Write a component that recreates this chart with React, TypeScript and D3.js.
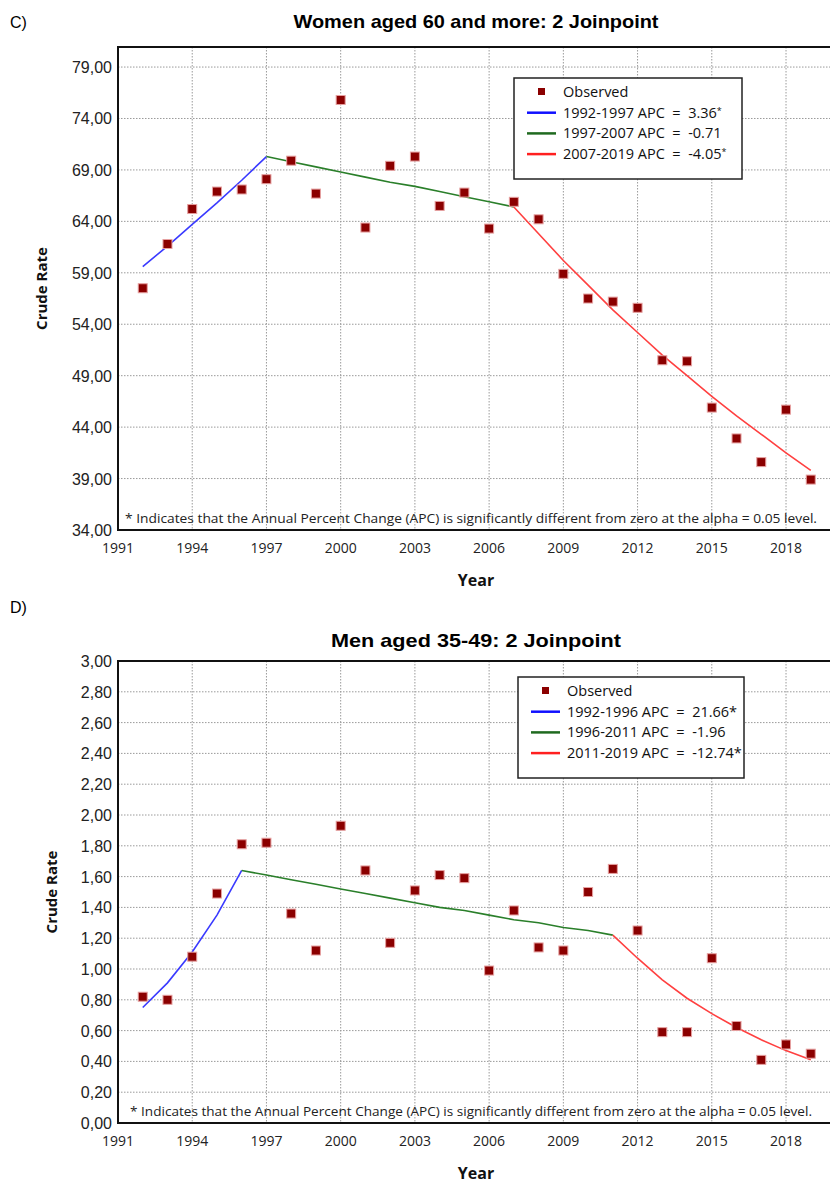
import React from "react";
import * as d3 from "d3";

const years = [1992, 1993, 1994, 1995, 1996, 1997, 1998, 1999, 2000, 2001, 2002, 2003, 2004, 2005, 2006, 2007, 2008, 2009, 2010, 2011, 2012, 2013, 2014, 2015, 2016, 2017, 2018, 2019];

const womenObserved = [57.5, 61.8, 65.2, 66.9, 67.1, 68.1, 69.9, 66.7, 75.8, 63.4, 69.4, 70.3, 65.5, 66.8, 63.3, 65.9, 64.2, 58.9, 56.5, 56.2, 55.6, 50.5, 50.4, 45.9, 42.9, 40.6, 45.7, 38.9];
const womenFitted = [59.6, 61.6, 63.7, 65.8, 68.0, 70.3, 69.8, 69.3, 68.8, 68.3, 67.8, 67.4, 66.9, 66.4, 65.9, 65.4, 62.8, 60.2, 57.8, 55.4, 53.2, 51.0, 49.0, 47.0, 45.1, 43.3, 41.5, 39.8];

const menObserved = [0.82, 0.80, 1.08, 1.49, 1.81, 1.82, 1.36, 1.12, 1.93, 1.64, 1.17, 1.51, 1.61, 1.59, 0.99, 1.38, 1.14, 1.12, 1.50, 1.65, 1.25, 0.59, 0.59, 1.07, 0.63, 0.41, 0.51, 0.45];
const menFitted = [0.75, 0.91, 1.11, 1.35, 1.64, 1.61, 1.58, 1.55, 1.52, 1.49, 1.46, 1.43, 1.40, 1.38, 1.35, 1.32, 1.30, 1.27, 1.25, 1.22, 1.07, 0.93, 0.81, 0.71, 0.62, 0.54, 0.47, 0.41];

const xTicks = [1991, 1994, 1997, 2000, 2003, 2006, 2009, 2012, 2015, 2018];
const womenYTicks = [34, 39, 44, 49, 54, 59, 64, 69, 74, 79];
const menYTicks = [0, 0.2, 0.4, 0.6, 0.8, 1.0, 1.2, 1.4, 1.6, 1.8, 2.0, 2.2, 2.4, 2.6, 2.8, 3.0];

const womenSegments = [[1992, 1997], [1997, 2007], [2007, 2019]];
const menSegments = [[1992, 1996], [1996, 2011], [2011, 2019]];

const womenLegend = ["1992-1997 APC  =  3.36*", "1997-2007 APC  =  -0.71", "2007-2019 APC  =  -4.05*"];
const menLegend = ["1992-1996 APC  =  21.66*", "1996-2011 APC  =  -1.96", "2011-2019 APC  =  -12.74*"];

const footnote = "* Indicates that the Annual Percent Change (APC) is significantly different from zero at the alpha = 0.05 level.";

const UI = "'Open Sans', 'Noto Sans', sans-serif";
const ARIAL = "'Liberation Sans', Arial, sans-serif";
const NARROW = "'Liberation Sans Narrow', 'Arial Narrow', 'Liberation Sans', sans-serif";
const segColors = ["#3a3aff", "#2a7f2a", "#ff4040"];
const legColors = ["#1010ff", "#1f6a1f", "#ff2020"];

type PanelProps = {
  letter: string;
  letterY: number;
  title: string;
  titleY: number;
  titleLen: number;
  top: number;
  bottom: number;
  yDomain: [number, number];
  yTicks: number[];
  observed: number[];
  fitted: number[];
  segments: number[][];
  legend: string[];
  smallStar: boolean;
  legBox: { x: number; y: number; w: number; h: number };
  yLabelX: number;
  footLen: number;
  footX: number;
};

function Panel(p: PanelProps) {
  const x = d3.scaleLinear().domain([1991, 2020]).range([118, 835.5]);
  const y = d3.scaleLinear().domain(p.yDomain).range([p.bottom, p.top]);
  const fmt = (v: number) => d3.format(".2f")(v).replace(".", ",");
  const line = d3
    .line<number>()
    .x((d) => x(years[d]))
    .y((d) => y(p.fitted[d]));
  const lb = p.legBox;
  const rowY = (i: number) => lb.y + 14 + i * 20.7;

  const renderLabel = (s: string) => {
    if (p.smallStar && s.endsWith("*")) {
      return (
        <>
          {s.slice(0, -1)}
          <tspan fontSize={9} dy={-4}>*</tspan>
        </>
      );
    }
    return s;
  };

  return (
    <g>
      <text x={10} y={p.letterY} fontFamily={ARIAL} fontSize={16} fill="#000">
        {p.letter}
      </text>
      <text
        x={476}
        y={p.titleY}
        textAnchor="middle"
        fontFamily={NARROW}
        fontWeight="bold"
        fontSize={19}
        textLength={p.titleLen}
        lengthAdjust="spacingAndGlyphs"
        fill="#000"
      >
        {p.title}
      </text>
      {/* grid */}
      {xTicks
        .filter((t) => t !== 1991)
        .map((t) => (
          <line key={"gx" + t} x1={x(t)} x2={x(t)} y1={p.top} y2={p.bottom} stroke="#9a9a9a" strokeWidth={1} strokeDasharray="1.5,1.5" />
        ))}
      {p.yTicks
        .filter((t, i) => i !== 0 && Math.abs(y(t) - p.top) > 2)
        .map((t) => (
          <line key={"gy" + t} x1={118} x2={835} y1={y(t)} y2={y(t)} stroke="#9a9a9a" strokeWidth={1} strokeDasharray="1.5,1.5" />
        ))}
      {/* frame */}
      <line x1={118} x2={835} y1={p.top} y2={p.top} stroke="#111" strokeWidth={2} />
      <line x1={118} x2={835} y1={p.bottom} y2={p.bottom} stroke="#111" strokeWidth={2} />
      <line x1={118} x2={118} y1={p.top - 1} y2={p.bottom + 1} stroke="#111" strokeWidth={2} />
      {/* y tick labels */}
      {p.yTicks.map((t) => (
        <text key={"yl" + t} x={112} y={y(t) + 6} textAnchor="end" fontFamily={ARIAL} fontSize={16} fill="#222">
          {fmt(t)}
        </text>
      ))}
      {/* x tick labels */}
      {xTicks.map((t) => (
        <text key={"xl" + t} x={x(t)} y={p.bottom + 23} textAnchor="middle" fontFamily={UI} fontSize={14} fill="#222">
          {t}
        </text>
      ))}
      {/* axis titles */}
      <text
        transform={`translate(${p.yLabelX},${(p.top + p.bottom) / 2}) rotate(-90)`}
        textAnchor="middle"
        fontFamily={UI}
        fontWeight="bold"
        fontSize={15}
        fill="#111"
      >
        Crude Rate
      </text>
      <text x={476} y={p.bottom + 56} textAnchor="middle" fontFamily={UI} fontWeight="bold" fontSize={16} fill="#111">
        Year
      </text>
      {/* footnote */}
      <text
        x={p.footX}
        y={p.bottom - 7}
        fontFamily={UI}
        fontSize={12.5}
        fill="#222"
        textLength={p.footLen}
        lengthAdjust="spacingAndGlyphs"
      >
        {footnote}
      </text>
      {/* fitted segments */}
      {p.segments.map((s, i) => {
        const idx = years.map((yr, k) => k).filter((k) => years[k] >= s[0] && years[k] <= s[1]);
        return <path key={"seg" + i} d={line(idx) || ""} fill="none" stroke={segColors[i]} strokeWidth={1.6} />;
      })}
      {/* observed */}
      {p.observed.map((v, k) => (
        <rect
          key={"ob" + k}
          x={x(years[k]) - 4.5}
          y={y(v) - 4.5}
          width={9}
          height={9}
          fill="#8b0000"
          stroke="#e6a0a0"
          strokeWidth={1}
        />
      ))}
      {/* legend */}
      <rect x={lb.x} y={lb.y} width={lb.w} height={lb.h} fill="#fff" stroke="#222" strokeWidth={1.5} />
      <rect x={lb.x + 24} y={rowY(0) - 4} width={7} height={7} fill="#8b0000" />
      <text x={lb.x + 49} y={rowY(0) + 5} fontFamily={UI} fontSize={14.5} fill="#111">
        Observed
      </text>
      {p.legend.map((s, i) => (
        <g key={"lg" + i}>
          <line x1={lb.x + 13} x2={lb.x + 42} y1={rowY(i + 1)} y2={rowY(i + 1)} stroke={legColors[i]} strokeWidth={2.5} />
          <text x={lb.x + 49} y={rowY(i + 1) + 5} fontFamily={UI} fontSize={14.5} fill="#111" style={{ whiteSpace: "pre" }}>
            {renderLabel(s)}
          </text>
        </g>
      ))}
    </g>
  );
}

export default function App() {
  return (
    <svg width={830} height={1183} style={{ position: "absolute", left: 0, top: 0, background: "#fff" }}>
      <rect x={0} y={0} width={830} height={1183} fill="#fff" />
      <Panel
        letter="C)"
        letterY={28}
        title="Women aged 60 and more: 2 Joinpoint"
        titleY={28}
        titleLen={365}
        top={47}
        bottom={530}
        yDomain={[34, 80.95]}
        yTicks={womenYTicks}
        observed={womenObserved}
        fitted={womenFitted}
        segments={womenSegments}
        legend={womenLegend}
        smallStar={true}
        legBox={{ x: 514, y: 78, w: 228, h: 101 }}
        yLabelX={47}
        footLen={692}
        footX={125}
      />
      <Panel
        letter="D)"
        letterY={613}
        title="Men aged 35-49: 2 Joinpoint"
        titleY={647}
        titleLen={290}
        top={661}
        bottom={1123}
        yDomain={[0, 3]}
        yTicks={menYTicks}
        observed={menObserved}
        fitted={menFitted}
        segments={menSegments}
        legend={menLegend}
        smallStar={false}
        legBox={{ x: 518, y: 677, w: 226, h: 101 }}
        yLabelX={57}
        footLen={682}
        footX={130}
      />
    </svg>
  );
}
